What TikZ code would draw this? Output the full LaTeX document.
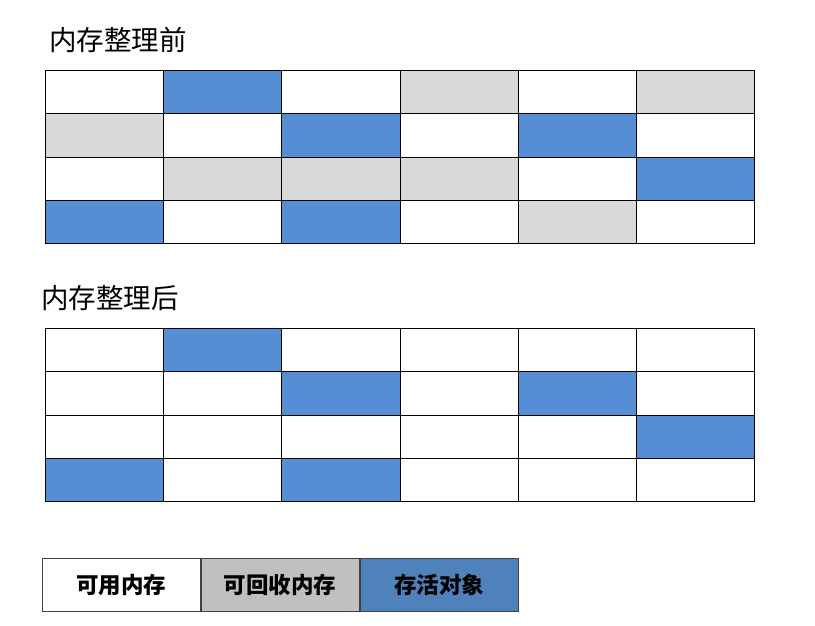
\documentclass[tikz,border=0pt]{standalone}
\usepackage{fontspec}
\setmainfont{Noto Sans CJK SC}
\usetikzlibrary{positioning}
\definecolor{freecol}{HTML}{FFFFFF}
\definecolor{deadcol}{HTML}{D9D9D9}
\definecolor{livecol}{HTML}{558ED5}
\definecolor{keydead}{HTML}{C0C0C0}
\definecolor{keylive}{HTML}{4F81BD}
\tikzset{cell/.style={draw=black, line width=0.9pt, minimum width=118.17pt, minimum height=43.25pt, inner sep=0pt, anchor=north west}}
\tikzset{title/.style={anchor=west, inner sep=0pt, font=\fontsize{27.5}{30}\selectfont}}
\tikzset{key/.style={draw=black!75, line width=1pt, minimum width=158pt, minimum height=53pt, inner sep=0pt, font=\fontsize{22.5}{26}\selectfont\bfseries}}

\begin{document}
\begin{tikzpicture}[x=1pt, y=-1pt]

    \useasboundingbox (0,0) rectangle (815,625);

    \node[title] (before) at (49,40) {内存整理前};
    \node[title] (after) at (41,298) {内存整理后};

    % before compaction
    \foreach \row/\cols in {0/{freecol,livecol,freecol,deadcol,freecol,deadcol},
                            1/{deadcol,freecol,livecol,freecol,livecol,freecol},
                            2/{freecol,deadcol,deadcol,deadcol,freecol,livecol},
                            3/{livecol,freecol,livecol,freecol,deadcol,freecol}}
    {
        \foreach \c [count=\i from 0] in \cols
            \node[cell, fill=\c] (pre-\row-\i) at (45+\i*118.17, 70+\row*43.25) {};
    }

    % after compaction
    \foreach \row/\cols in {0/{freecol,livecol,freecol,freecol,freecol,freecol},
                            1/{freecol,freecol,livecol,freecol,livecol,freecol},
                            2/{freecol,freecol,freecol,freecol,freecol,livecol},
                            3/{livecol,freecol,livecol,freecol,freecol,freecol}}
    {
        \foreach \c [count=\i from 0] in \cols
            \node[cell, fill=\c] (post-\row-\i) at (45+\i*118.17, 328+\row*43.25) {};
    }

    % legend
    \node[key, fill=white] (free) at (121,585) {可用内存};
    \node[key, fill=keydead, right=0pt of free] (dead) {可回收内存};
    \node[key, fill=keylive, right=0pt of dead] (live) {存活对象};

\end{tikzpicture}
\end{document}
